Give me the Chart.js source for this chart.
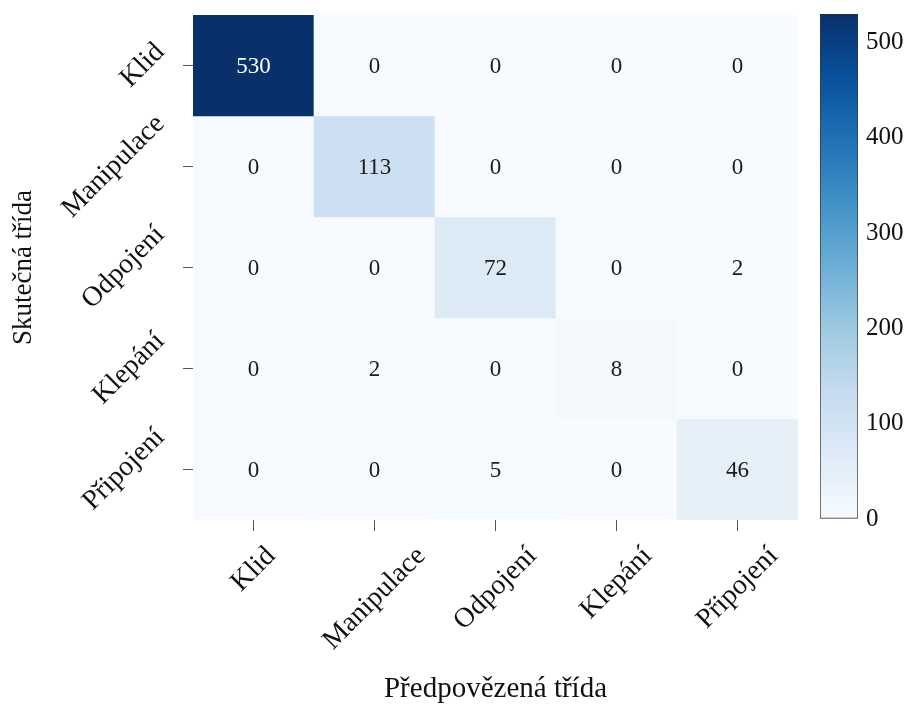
<!DOCTYPE html>
<html>
<head>
<meta charset="utf-8">
<script src="https://cdn.jsdelivr.net/npm/chart.js@4/dist/chart.umd.min.js"></script>
<style>
  html, body { margin: 0; padding: 0; background: #fff; }
  #wrap { position: relative; width: 912px; height: 709px; }
  #matrix { position: absolute; left: 0; top: 0; }
  #colorbar { position: absolute; left: 800px; top: 0; }
</style>
</head>
<body>
<div id="wrap">
  <canvas id="matrix" width="912" height="709"></canvas>
  <canvas id="colorbar" width="112" height="709"></canvas>
</div>
<script>
// class names (same order on both axes)
const classes = ['Klid', 'Manipulace', 'Odpojení', 'Klepání', 'Připojení'];

// confusion matrix rows: actual class -> counts per predicted class
const rowKlid       = [530, 0, 0, 0, 0];
const rowManipulace = [0, 113, 0, 0, 0];
const rowOdpojeni   = [0, 0, 72, 0, 2];
const rowKlepani    = [0, 2, 0, 8, 0];
const rowPripojeni  = [0, 0, 5, 0, 46];
const rows = [rowKlid, rowManipulace, rowOdpojeni, rowKlepani, rowPripojeni];

// colour bar range and ticks
const colorMin = 0;
const colorMax = 530;
const colorbarTicks = [0, 100, 200, 300, 400, 500];

const serif = '"Liberation Serif", "DejaVu Serif", serif';

// matplotlib "Blues"
const blues = [
    [247, 251, 255], [222, 235, 247], [198, 219, 239], [158, 202, 225],
    [107, 174, 214], [66, 146, 198], [33, 113, 181], [8, 81, 156], [8, 48, 107]
];

function bluesColor(t) {
    t = Math.min(1, Math.max(0, t));
    const pos = t * (blues.length - 1);
    const i = Math.min(blues.length - 2, Math.floor(pos));
    const f = pos - i;
    const c = blues[i].map((v, k) => Math.round(v + (blues[i + 1][k] - v) * f));
    return `rgb(${c[0]}, ${c[1]}, ${c[2]})`;
}

function valueColor(v) {
    return bluesColor((v - colorMin) / (colorMax - colorMin));
}

// each actual class is one stacked row of unit height
const datasets = rows.map((row, r) => ({
    label: classes[r],
    data: row.map(() => 1),
    counts: row,
    backgroundColor: row.map(valueColor),
    borderWidth: 0,
    barPercentage: 1,
    categoryPercentage: 1
}));

// numbers inside the cells
const cellValues = {
    id: 'cellValues',
    afterDatasetsDraw(chart) {
        const {ctx} = chart;
        ctx.save();
        ctx.font = `23px ${serif}`;
        ctx.textAlign = 'center';
        ctx.textBaseline = 'middle';
        chart.data.datasets.forEach((ds, r) => {
            chart.getDatasetMeta(r).data.forEach((bar, c) => {
                const v = ds.counts[c];
                const {x, y, base} = bar.getProps(['x', 'y', 'base'], true);
                ctx.fillStyle = v > colorMax * 0.5 ? '#ffffff' : '#1a1a1a';
                ctx.fillText(String(v), x, (y + base) / 2 + 1);
            });
        });
        ctx.restore();
    }
};

// rotated class names next to the tick marks
const tickLabels = {
    id: 'tickLabels',
    afterDraw(chart) {
        const {ctx, chartArea, scales: {x, y}} = chart;
        const h = 22;
        const s = Math.SQRT1_2;
        ctx.save();
        ctx.font = `28px ${serif}`;
        ctx.fillStyle = '#111';
        ctx.textAlign = 'center';
        ctx.textBaseline = 'middle';
        classes.forEach((name, i) => {
            const side = (ctx.measureText(name).width + h) * s;
            // bottom axis: box centred under the tick
            ctx.save();
            ctx.translate(x.getPixelForTick(i), chartArea.bottom + 24 + side / 2);
            ctx.rotate(-Math.PI / 4);
            ctx.fillText(name, 0, 0);
            ctx.restore();
            // left axis: box ends just left of the tick
            ctx.save();
            ctx.translate(chartArea.left - 25 - side / 2, y.getPixelForValue(i + 0.5));
            ctx.rotate(-Math.PI / 4);
            ctx.fillText(name, 0, 0);
            ctx.restore();
        });
        ctx.restore();
    }
};

new Chart(document.getElementById('matrix'), {
    type: 'bar',
    data: { labels: classes, datasets: datasets },
    options: {
        responsive: false,
        animation: false,
        layout: { padding: { top: 15, right: 114, left: 0, bottom: 0 } },
        plugins: { legend: { display: false }, tooltip: { enabled: false } },
        scales: {
            x: {
                type: 'category',
                stacked: true,
                offset: true,
                grid: { offset: false, drawOnChartArea: false, drawTicks: true, tickLength: 11, color: '#555' },
                border: { display: false },
                ticks: { display: false },
                title: {
                    display: true, text: 'Předpovězená třída', color: '#111',
                    font: { family: serif, size: 29 }, padding: { top: 0, bottom: 2 }
                },
                afterFit(scale) { scale.height = 189; }
            },
            y: {
                type: 'linear',
                stacked: true,
                reverse: true,
                min: 0,
                max: classes.length,
                afterBuildTicks(scale) {
                    scale.ticks = classes.map((_, i) => ({ value: i + 0.5 }));
                },
                grid: { drawOnChartArea: false, drawTicks: true, tickLength: 10, color: '#555' },
                border: { display: false },
                ticks: { display: false },
                title: {
                    display: true, text: 'Skutečná třída', color: '#111',
                    font: { family: serif, size: 27 }, padding: { top: 8, bottom: 0 }
                },
                afterFit(scale) { scale.width = 193; }
            }
        }
    },
    plugins: [cellValues, tickLabels]
});

// colour bar: one floating bar filled with the colormap
new Chart(document.getElementById('colorbar'), {
    type: 'bar',
    data: {
        labels: [''],
        datasets: [{
            data: [[colorMin, colorMax]],
            backgroundColor(ctx) {
                const area = ctx.chart.chartArea;
                if (!area) return null;
                const g = ctx.chart.ctx.createLinearGradient(0, area.bottom, 0, area.top);
                blues.forEach((c, i) => g.addColorStop(i / (blues.length - 1), `rgb(${c[0]}, ${c[1]}, ${c[2]})`));
                return g;
            },
            borderColor: '#333',
            borderWidth: 1,
            borderSkipped: false,
            barPercentage: 1,
            categoryPercentage: 1
        }]
    },
    options: {
        responsive: false,
        animation: false,
        layout: { padding: { top: 14, left: 20, right: 0, bottom: 190 } },
        plugins: { legend: { display: false }, tooltip: { enabled: false } },
        scales: {
            x: { display: false },
            y: {
                position: 'right',
                min: colorMin,
                max: colorMax,
                z: 1,
                afterBuildTicks(scale) {
                    scale.ticks = colorbarTicks.map(v => ({ value: v }));
                },
                grid: {
                    drawTicks: false,
                    color: (ctx) => ctx.tick && ctx.tick.value === colorMin ? 'rgba(0,0,0,0)' : '#8a8a8a',
                    lineWidth: 1.2
                },
                border: { display: false, dash: [11, 16] },
                ticks: {
                    padding: 8,
                    color: '#111',
                    font: { family: serif, size: 25 }
                },
                afterFit(scale) {
                    scale.width = 54;
                    scale.paddingTop = 0;
                    scale.paddingBottom = 0;
                }
            }
        }
    }
});
</script>
</body>
</html>
